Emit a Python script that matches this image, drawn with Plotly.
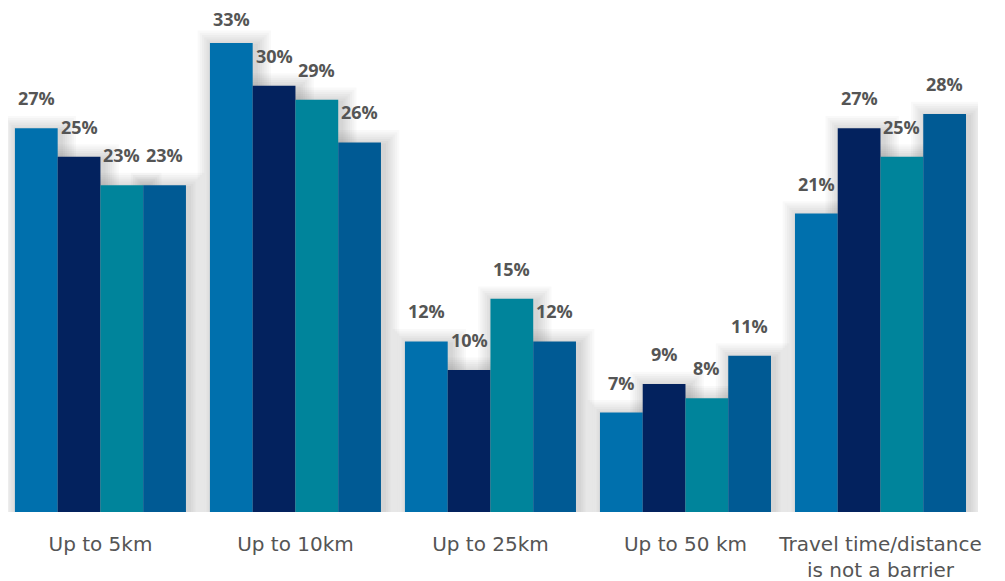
import plotly.graph_objects as go

categories = ["Up to 5km", "Up to 10km", "Up to 25km", "Up to 50 km",
              "Travel time/distance<br>is not a barrier"]
serie_1 = [27, 33, 12, 7, 21]
serie_2 = [25, 30, 10, 9, 27]
serie_3 = [23, 29, 15, 8, 25]
serie_4 = [23, 26, 12, 11, 28]

series = [serie_1, serie_2, serie_3, serie_4]
colores = ["#0070AD", "#03225E", "#00849B", "#005A94"]

bargap = 0.123
ancho = (1 - bargap) / len(series)
escala = 14.21      # pixeles por punto porcentual
px_x = 1 / 195      # unidades de eje x por pixel
px_y = 1 / escala   # unidades de eje y por pixel
ymax = 34.76

fig = go.Figure()
for i, (vals, col) in enumerate(zip(series, colores)):
    fig.add_trace(go.Bar(x=list(range(len(categories))), y=vals, marker_color=col,
                         marker_line_width=0, offsetgroup=str(i), cliponaxis=False))

# sombras difusas y etiquetas
for i, vals in enumerate(series):
    for g, v in enumerate(vals):
        x0 = g - (1 - bargap) / 2 + i * ancho
        x1 = x0 + ancho
        for k in range(1, 8):
            e = 2.2 * k
            fig.add_shape(type="rect", layer="below", line_width=0,
                          x0=x0 - e * px_x + 3 * px_x, x1=x1 + e * px_x + 3 * px_x,
                          y0=-(e + 2) * px_y, y1=v + (e - 3) * px_y,
                          fillcolor="rgba(0,0,0,0.022)")
        # que la etiqueta no se salga por arriba
        hueco = (ymax - v) * escala + 10
        desplaz = min(17, hueco - 24)
        fig.add_annotation(x=(x0 + x1) / 2, y=v, text=f"{v}%", showarrow=False,
                           yanchor="bottom", yshift=desplaz, borderpad=0,
                           font=dict(family="Open Sans", size=18, color="#555555",
                                     weight="bold"))

fig.update_layout(
    width=1005, height=581,
    margin=dict(l=0, r=35, t=10, b=77),
    barmode="group", bargap=bargap, bargroupgap=0,
    plot_bgcolor="white", paper_bgcolor="white",
    showlegend=False,
)
fig.update_yaxes(range=[0, ymax], visible=False)
fig.update_xaxes(range=[-0.474, 4.5], showline=False, ticks="", showgrid=False,
                 zeroline=False, ticklabelstandoff=18,
                 tickvals=list(range(len(categories))), ticktext=categories,
                 tickfont=dict(family="DejaVu Sans", size=20, color="#555555"))

fig.write_html("out.html")
